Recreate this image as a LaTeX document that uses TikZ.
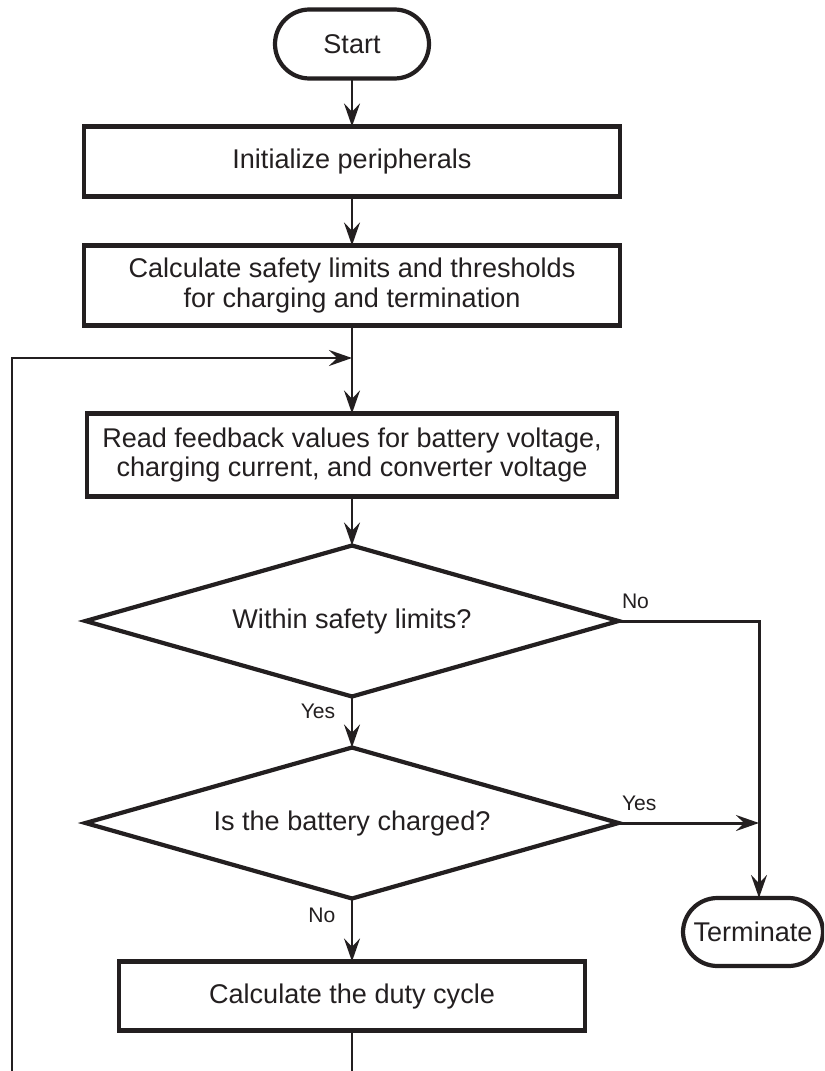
\documentclass[tikz,border=0pt]{standalone}
\usepackage{fontspec}
\setmainfont{Liberation Sans}
\usetikzlibrary{positioning,shapes.geometric,arrows.meta}
\definecolor{ink}{HTML}{231F20}
\begin{document}
\begin{tikzpicture}[font=\fontsize{15.4}{17}\selectfont, ink,
    flow/.style={draw=ink, line width=1.7pt, -{Stealth[length=13pt,width=9pt,inset=4.5pt]}},
    wire/.style={draw=ink, line width=1.7pt}]
\tikzset{every node/.style={outer sep=0pt, text=ink}}
\tikzset{box/.style={draw=ink, line width=2.4pt, rectangle, minimum width=10.72cm, align=center}}
\tikzset{term/.style={draw=ink, line width=2.4pt, rectangle, rounded corners=0.69cm,
                      minimum height=1.38cm, inner xsep=0pt}}
\tikzset{test/.style={draw=ink, line width=2.4pt, diamond, aspect=3.5,
                      minimum width=10.66cm, minimum height=3.02cm, inner sep=0pt}}
\tikzset{tag/.style={font=\fontsize{12}{13}\selectfont, inner sep=1pt}}
%\tikzset{every node/.style={shape=rectangle,
%                            draw,
%                            minimum size=1cm}}
\useasboundingbox (0,0) rectangle (16.48,-21.42);
\clip (0,0) rectangle (16.48,-21.42);
\node[term, minimum width=3.08cm] (start) at (7.04,-0.88) {Start};
\node[box, minimum height=1.4cm, below=0.96cm of start] (init) {Initialize peripherals};
\node[box, minimum height=1.6cm, below=0.98cm of init] (calc)
    {Calculate safety limits and thresholds\\ for charging and termination};
\node[box, minimum width=10.6cm, minimum height=1.66cm, below=1.76cm of calc] (read)
    {Read feedback values for battery voltage,\\ charging current, and converter voltage};
\node[test, below=0.98cm of read] (safe) {Within safety limits?};
\node[test, below=1.02cm of safe] (full) {Is the battery charged?};
\node[box, minimum width=9.32cm, minimum height=1.38cm, below=1.26cm of full] (duty)
    {Calculate the duty cycle};
\node[term, minimum width=2.8cm, minimum height=1.36cm] (stop) at (15.06,-18.64) {Terminate};
\coordinate (merge) at (calc.south |- 0,-7.16);
\coordinate (rail) at (15.18,0);
\coordinate (back) at (0.24,-22.5);
% main column
\draw[flow] (start) -- (init);
\draw[flow] (init) -- (calc);
\draw[flow] (calc) -- (read);
\draw[flow] (read) -- (safe);
\draw[flow] (safe) -- (full);
\draw[flow] (full) -- (duty);
% exits to terminate
\draw[flow] (safe.east) -| (rail |- stop.north);
\draw[flow] (full.east) -- (full.east -| rail);
% loop back
\draw[flow] (duty.south) |- (back) |- (merge);
% branch labels
\node[tag, anchor=south west] (safeno) at ([xshift=1pt,yshift=6pt]safe.east) {No};
\node[tag, anchor=north east] (safeyes) at ([xshift=-0.3cm,yshift=-0.12cm]safe.south) {Yes};
\node[tag, anchor=south west] (fullyes) at ([xshift=1pt,yshift=6pt]full.east) {Yes};
\node[tag, anchor=north east] (fullno) at ([xshift=-0.3cm,yshift=-0.16cm]full.south) {No};
\end{tikzpicture}
\end{document}
